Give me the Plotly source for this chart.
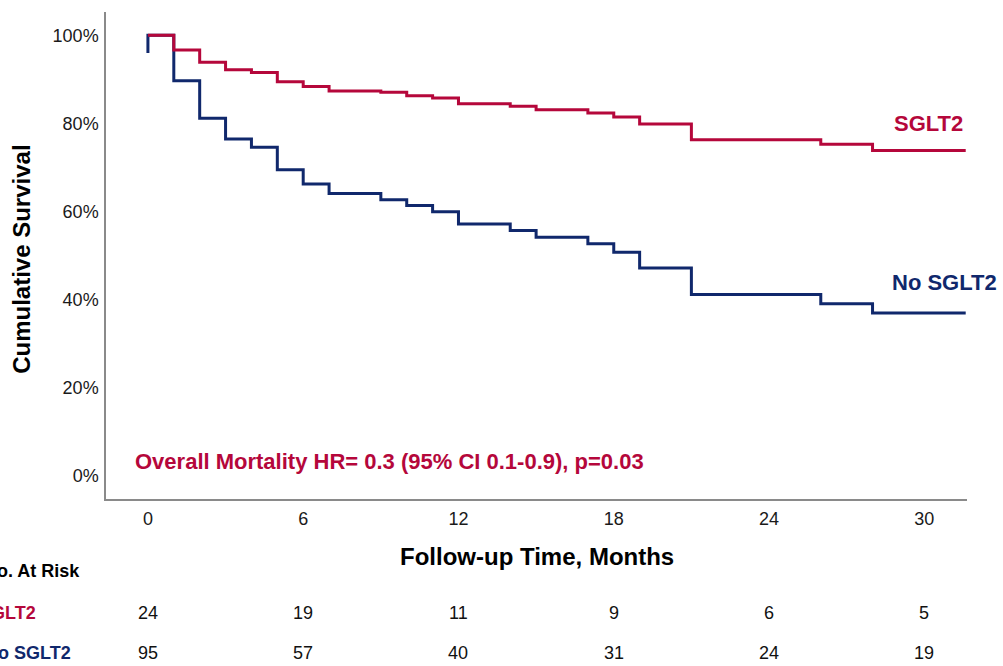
import plotly.graph_objects as go

# ---- data ----
months = [0, 1, 2, 3, 4, 5, 6, 7, 9, 10, 11, 12, 14, 15, 17, 18, 19, 21, 26, 28, 31.6]
sglt2_surv = [1.000, 0.967, 0.939, 0.922, 0.916, 0.895, 0.884, 0.874, 0.871, 0.863,
              0.858, 0.845, 0.839, 0.831, 0.824, 0.815, 0.799, 0.763, 0.753, 0.739, 0.739]
no_sglt2_start = 0.960
no_sglt2_surv = [1.000, 0.897, 0.812, 0.765, 0.746, 0.695, 0.663, 0.641, 0.627, 0.614,
                 0.600, 0.572, 0.557, 0.542, 0.527, 0.508, 0.472, 0.412, 0.391, 0.370, 0.370]

risk_months = [0, 6, 12, 18, 24, 30]
risk_sglt2 = [24, 19, 11, 9, 6, 5]
risk_no_sglt2 = [95, 57, 40, 31, 24, 19]

x_ticks = [0, 6, 12, 18, 24, 30]
y_ticks = [0, 0.2, 0.4, 0.6, 0.8, 1.0]

RED = "#B5073B"
BLUE = "#10286C"
FONT = "Liberation Sans, Arial, sans-serif"

W, H = 1003, 666
L, R, T, B = 106, 967, 12, 499.3


def px(xp):
    return (xp - L) / (R - L)


def py(yp):
    return (B - yp) / (B - T)


fig = go.Figure()
fig.add_trace(go.Scatter(
    x=[months[0]] + months, y=[no_sglt2_start] + no_sglt2_surv,
    mode="lines", line=dict(shape="hv", color=BLUE, width=3),
    name="No SGLT2", showlegend=False, hoverinfo="skip"))
fig.add_trace(go.Scatter(
    x=months, y=sglt2_surv,
    mode="lines", line=dict(shape="hv", color=RED, width=3),
    name="SGLT2", showlegend=False, hoverinfo="skip"))

ann = []
# axis titles
ann.append(dict(text="<b>Follow-up Time, Months</b>", xref="paper", yref="paper",
                x=px(537), y=py(556.7), xanchor="center", yanchor="middle",
                showarrow=False, font=dict(size=24, color="#000", family=FONT)))
ann.append(dict(text="<b>Cumulative Survival</b>", xref="paper", yref="paper",
                x=px(22), y=py(260), xanchor="center", yanchor="middle", textangle=-90,
                showarrow=False, font=dict(size=24, color="#000", family=FONT)))
# curve labels
ann.append(dict(text="<b>SGLT2</b>", xref="paper", yref="paper",
                x=px(892), y=py(123.3), xanchor="left", yanchor="middle",
                showarrow=False, font=dict(size=22, color=RED, family=FONT)))
ann.append(dict(text="<b>No SGLT2</b>", xref="paper", yref="paper",
                x=px(890), y=py(283), xanchor="left", yanchor="middle",
                showarrow=False, font=dict(size=22, color=BLUE, family=FONT)))
# HR text
ann.append(dict(text="<b>Overall Mortality HR= 0.3 (95% CI 0.1-0.9), p=0.03</b>",
                xref="paper", yref="paper", x=px(133), y=py(462),
                xanchor="left", yanchor="middle", showarrow=False,
                font=dict(size=22, color=RED, family=FONT)))
# at-risk table
ann.append(dict(text="<b>No. At Risk</b>", xref="paper", yref="paper",
                x=px(82), y=py(571.7), xanchor="right", yanchor="middle",
                showarrow=False, font=dict(size=18, color="#000", family=FONT)))
ann.append(dict(text="<b>SGLT2</b>", xref="paper", yref="paper",
                x=px(38), y=py(613), xanchor="right", yanchor="middle",
                showarrow=False, font=dict(size=18, color=RED, family=FONT)))
ann.append(dict(text="<b>No SGLT2</b>", xref="paper", yref="paper",
                x=px(73), y=py(653), xanchor="right", yanchor="middle",
                showarrow=False, font=dict(size=18, color=BLUE, family=FONT)))
for m, a, b in zip(risk_months, risk_sglt2, risk_no_sglt2):
    ann.append(dict(text=str(a), xref="x", yref="paper", x=m, y=py(613),
                    xanchor="center", yanchor="middle", showarrow=False,
                    font=dict(size=18, color="#111", family=FONT)))
    ann.append(dict(text=str(b), xref="x", yref="paper", x=m, y=py(653),
                    xanchor="center", yanchor="middle", showarrow=False,
                    font=dict(size=18, color="#111", family=FONT)))

fig.update_layout(
    width=W, height=H,
    margin=dict(l=L, r=W - R, t=T, b=H - B, pad=0),
    paper_bgcolor="white", plot_bgcolor="white",
    annotations=ann,
    xaxis=dict(range=[-1.62, 31.65], tickvals=x_ticks, ticktext=[str(v) for v in x_ticks],
               showgrid=False, zeroline=False, showline=True, linecolor="#8a8a8a",
               linewidth=1.5, ticks="", ticklabelstandoff=3,
               tickfont=dict(size=18, color="#1a1a1a", family=FONT)),
    yaxis=dict(range=[-0.052, 1.053], tickvals=y_ticks, tickformat=".0%",
               showgrid=False, zeroline=False, showline=True, linecolor="#8a8a8a",
               linewidth=1.5, ticks="", ticklabelstandoff=2,
               tickfont=dict(size=18, color="#1a1a1a", family=FONT)),
)

fig.write_html(
    "out.html",
    config={"displayModeBar": False},
    post_script="document.body.style.margin='0';document.body.style.overflow='hidden';",
)
